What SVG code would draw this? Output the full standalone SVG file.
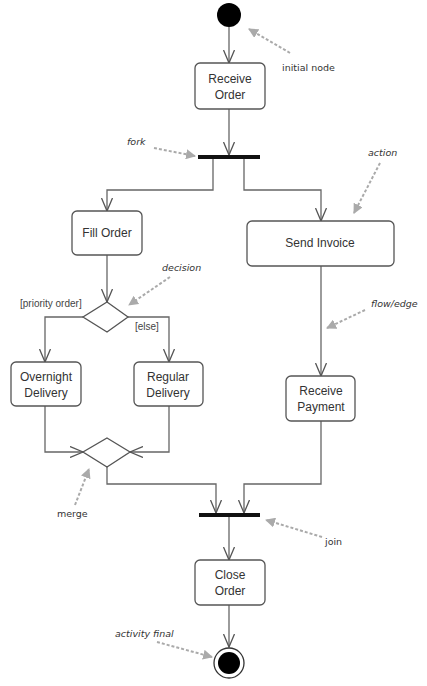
<svg xmlns="http://www.w3.org/2000/svg" width="427" height="686" viewBox="0 0 427 686">
<style>
.box{fill:#fff;stroke:#555;stroke-width:1.3}
.lbl{font-family:"Liberation Sans",Arial,sans-serif;font-size:12px;fill:#333;text-anchor:middle}
.guard{font-family:"Liberation Sans",Arial,sans-serif;font-size:10px;fill:#444}
.note{font-family:"DejaVu Sans",sans-serif;font-size:9.5px;fill:#333;font-style:italic}
.up{font-style:normal}
.flow{fill:none;stroke:#666;stroke-width:1.3;marker-end:url(#open)}
.ann{fill:none;stroke:#aaa;stroke-width:2;stroke-dasharray:3,2;marker-end:url(#tri)}
.bar{fill:#111}
</style>
<defs>
<marker id="open" markerUnits="userSpaceOnUse" viewBox="0 0 14 12" refX="13" refY="6" markerWidth="14" markerHeight="12" orient="auto">
<path d="M0,0.5 L13,6 L0,11.5" fill="none" stroke="#555" stroke-width="1.3"/>
</marker>
<marker id="tri" markerUnits="userSpaceOnUse" viewBox="0 0 10 10" refX="9" refY="5" markerWidth="10" markerHeight="10" orient="auto">
<path d="M0,0 L10,5 L0,10 Z" fill="#aaa"/>
</marker>
</defs>

<g id="connectors">
<path class="flow" d="M229,27 L229,63"/>
<path class="flow" d="M229,109 L229,155"/>
<path class="flow" d="M213,159 L213,190 L107,190 L107,211"/>
<path class="flow" d="M244,159 L244,190 L321,190 L321,221"/>
<path class="flow" d="M107,255 L107,302"/>
<path class="flow" d="M83,317 L45,317 L45,362"/>
<path class="flow" d="M128,317 L169,317 L169,362"/>
<path class="flow" d="M45,406 L45,452 L83,452"/>
<path class="flow" d="M169,406 L169,452 L130,452"/>
<path class="flow" d="M107,467 L107,484 L216,484 L216,513"/>
<path class="flow" d="M321,266 L321,376"/>
<path class="flow" d="M321,421 L321,484 L244,484 L244,513"/>
<path class="flow" d="M229,517 L229,560"/>
<path class="flow" d="M229,605 L229,647"/>
</g>

<g id="initial"><circle cx="229" cy="15" r="12" fill="#000"/></g>
<g id="receive-order"><rect class="box" x="195" y="63" width="70" height="46" rx="5"/><text class="lbl" x="230" y="83">Receive</text><text class="lbl" x="230" y="99">Order</text></g>
<g id="fork"><rect class="bar" x="198" y="155" width="62" height="4"/></g>
<g id="fill-order"><rect class="box" x="72" y="211" width="70" height="44" rx="5"/><text class="lbl" x="107" y="237">Fill Order</text></g>
<g id="send-invoice"><rect class="box" x="247" y="221" width="147" height="45" rx="5"/><text class="lbl" x="320" y="247">Send Invoice</text></g>
<g id="decision"><path class="box" d="M107,302 L128,317 L107,332 L83,317 Z"/></g>
<text class="guard" x="20" y="307">[priority order]</text>
<text class="guard" x="135" y="330">[else]</text>
<g id="overnight"><rect class="box" x="11" y="362" width="70" height="44" rx="5"/><text class="lbl" x="46" y="381">Overnight</text><text class="lbl" x="46" y="397">Delivery</text></g>
<g id="regular"><rect class="box" x="134" y="362" width="69" height="44" rx="5"/><text class="lbl" x="168" y="381">Regular</text><text class="lbl" x="168" y="397">Delivery</text></g>
<g id="merge"><path class="box" d="M107,438 L130,452 L107,467 L83,452 Z"/></g>
<g id="receive-payment"><rect class="box" x="286" y="376" width="69" height="45" rx="5"/><text class="lbl" x="321" y="395">Receive</text><text class="lbl" x="321" y="411">Payment</text></g>
<g id="join"><rect class="bar" x="199" y="513" width="61" height="4"/></g>
<g id="close-order"><rect class="box" x="195" y="560" width="70" height="45" rx="5"/><text class="lbl" x="230" y="579">Close</text><text class="lbl" x="230" y="595">Order</text></g>
<g id="final"><circle cx="229" cy="663" r="15" fill="#fff" stroke="#333" stroke-width="1.3"/><circle cx="229" cy="663" r="11" fill="#000"/></g>

<g id="annotations">
<path class="ann" d="M290,53 L249,29"/>
<text class="note up" x="282" y="71">initial node</text>
<path class="ann" d="M154,148 L195,156"/>
<text class="note" x="127" y="145">fork</text>
<path class="ann" d="M380,163 L354,213"/>
<text class="note" x="368" y="156">action</text>
<path class="ann" d="M365,310 L327,328"/>
<text class="note" x="371" y="307">flow/edge</text>
<path class="ann" d="M170,277 L129,305"/>
<text class="note" x="162" y="271">decision</text>
<path class="ann" d="M75,505 L89,469"/>
<text class="note up" x="57" y="517">merge</text>
<path class="ann" d="M322,537 L266,520"/>
<text class="note up" x="325" y="545">join</text>
<path class="ann" d="M157,642 L212,657"/>
<text class="note" x="115" y="637">activity final</text>
</g>
</svg>
